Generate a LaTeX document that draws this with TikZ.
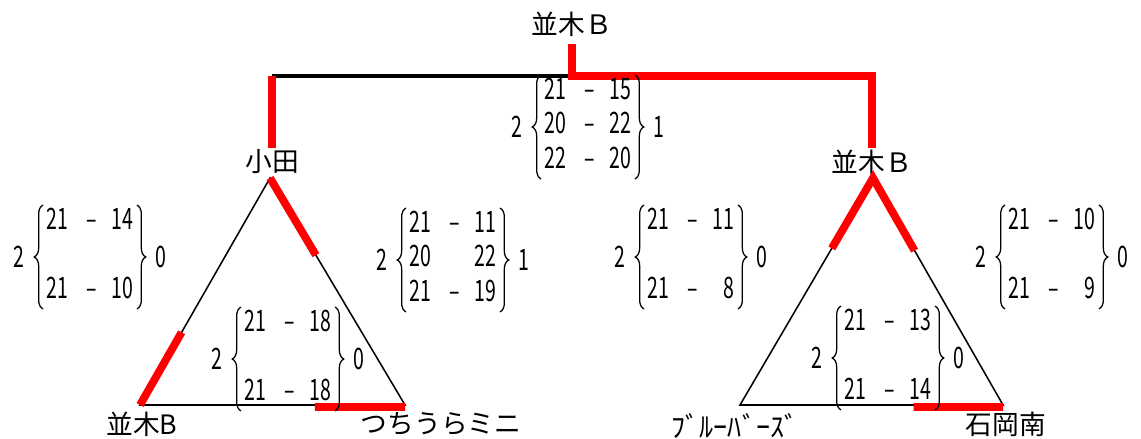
\documentclass[tikz,border=0pt]{standalone}
\usepackage{fontspec}
\setmainfont{Noto Sans CJK JP}
\newfontfamily\numfont[FakeStretch=0.66]{Noto Sans CJK JP}
\usetikzlibrary{calc,positioning,decorations.pathreplacing}

\begin{document}
\begin{tikzpicture}[x=0.025cm, y=-0.025cm,
  team/.style={font=\fontsize{19}{19}\selectfont, inner sep=1pt},
  total/.style={font=\numfont\fontsize{21}{21}\selectfont, inner sep=1pt},
  scores/.style={font=\numfont\fontsize{21}{24.5}\selectfont, inner xsep=0.08cm, inner ysep=0pt},
  curly/.style={decorate, decoration={brace, amplitude=0.22cm}, line width=0.9pt},
  edge/.style={line width=1.1pt},
  win/.style={red, line width=5.6pt},
  lose/.style={line width=2.2pt}]

% --- Cadre ---
\useasboundingbox (0,0) rectangle (1141,439);

% --- Sommets des deux poules ---
\coordinate (A1) at (270,178);
\coordinate (B1) at (140,405);
\coordinate (C1) at (405,405);
\coordinate (A2) at (873,178);
\coordinate (B2) at (740,405);
\coordinate (C2) at (1003,405);
\coordinate (j0) at (572,76);

% --- Equipes ---
\node[team] (champ) at (572,24)   {並木Ｂ};
\node[team] (oda)   at (272,162)  {小田};
\node[team] (nb2)   at (872,162)  {並木Ｂ};
\node[team] (nb1)   at (142,424)  {並木B};
\node[team] (tsu)   at (441,424)  {つちうらミニ};
\node[team, font=\fontsize{20}{20}\selectfont] (blu) at (735,426) {ﾌﾞﾙｰﾊﾞｰｽﾞ};
\node[team] (ish)   at (1006,424) {石岡南};

% --- Triangles ---
\draw[edge] (A1) -- (B1) -- (C1) -- cycle;
\draw[edge] (A2) -- (B2) -- (C2) -- cycle;

% --- Finale ---
\draw[lose] (j0) -- (j0 -| oda);
\draw[win] (j0 -| oda) -- (oda.north);
\draw[win, shorten <=0.15cm] (champ.south) -- (j0) -| (nb2.north);

% --- Vainqueurs (rouge) ---
\draw[win] (A1) -- ($(A1)!0.34!(C1)$);
\draw[win] (B1) -- ($(B1)!0.32!(A1)$);
\draw[win] ($(C1)!0.34!(B1)+(0,2)$) -- ($(C1)+(0,2)$);
\draw[win] ($(A2)!0.31!(B2)$) -- (A2) -- ($(A2)!0.32!(C2)$);
\draw[win] ($(C2)!0.34!(B2)+(0,2)$) -- ($(C2)+(0,2)$);

% --- Scores ---
\node[scores] (s0) at (588,127) {\begin{tabular}{@{}r@{\hspace{0.45cm}}c@{\hspace{0.38cm}}r@{}}21 & – & 15\\20 & – & 22\\22 & – & 20\end{tabular}};
\node[scores] (s1) at (90,257)  {\begin{tabular}{@{}r@{\hspace{0.45cm}}c@{\hspace{0.38cm}}r@{}}21 & – & 14\\ & & \\21 & – & 10\end{tabular}};
\node[scores] (s2) at (453,260) {\begin{tabular}{@{}r@{\hspace{0.45cm}}c@{\hspace{0.38cm}}r@{}}21 & – & 11\\20 & & 22\\21 & – & 19\end{tabular}};
\node[scores] (s3) at (288,359) {\begin{tabular}{@{}r@{\hspace{0.45cm}}c@{\hspace{0.38cm}}r@{}}21 & – & 18\\ & & \\21 & – & 18\end{tabular}};
\node[scores] (s4) at (691,257) {\begin{tabular}{@{}r@{\hspace{0.45cm}}c@{\hspace{0.38cm}}r@{}}21 & – & 11\\ & & \\21 & – & 8\end{tabular}};
\node[scores] (s5) at (1052,257) {\begin{tabular}{@{}r@{\hspace{0.45cm}}c@{\hspace{0.38cm}}r@{}}21 & – & 10\\ & & \\21 & – & 9\end{tabular}};
\node[scores] (s6) at (888,358) {\begin{tabular}{@{}r@{\hspace{0.45cm}}c@{\hspace{0.38cm}}r@{}}21 & – & 13\\ & & \\21 & – & 14\end{tabular}};

\foreach \s in {s0,s1,s2,s3,s4,s5,s6} {
  \draw[curly] (\s.south west) -- (\s.north west);
  \draw[curly] (\s.north east) -- (\s.south east);
}

% --- Totaux ---
\node[total, left=0.42cm of s0]  (s0w) {2};
\node[total, right=0.42cm of s0] (s0l) {1};
\node[total, left=0.42cm of s1]  (s1w) {2};
\node[total, right=0.42cm of s1] (s1l) {0};
\node[total, left=0.42cm of s2]  (s2w) {2};
\node[total, right=0.42cm of s2] (s2l) {1};
\node[total, left=0.42cm of s3]  (s3w) {2};
\node[total, right=0.42cm of s3] (s3l) {0};
\node[total, left=0.42cm of s4]  (s4w) {2};
\node[total, right=0.42cm of s4] (s4l) {0};
\node[total, left=0.42cm of s5]  (s5w) {2};
\node[total, right=0.42cm of s5] (s5l) {0};
\node[total, left=0.42cm of s6]  (s6w) {2};
\node[total, right=0.42cm of s6] (s6l) {0};

\end{tikzpicture}
\end{document}
